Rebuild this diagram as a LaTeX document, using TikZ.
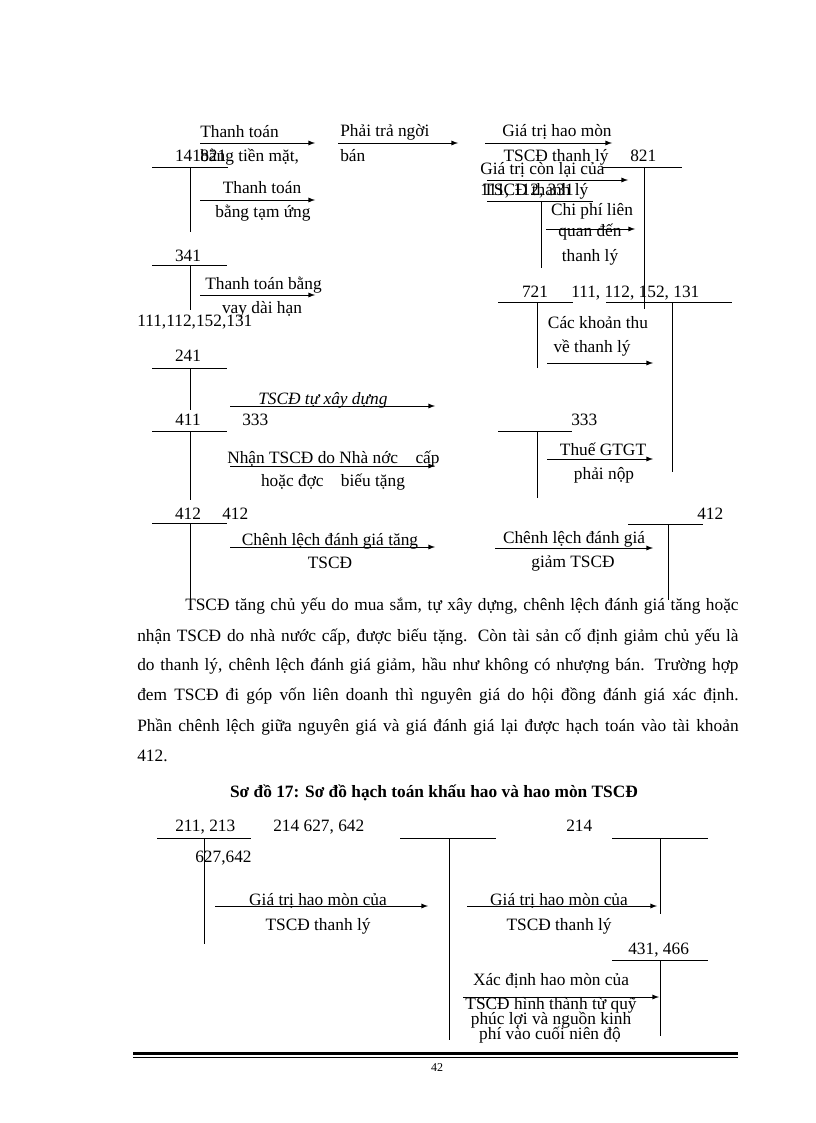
\documentclass[tikz,border=0pt]{standalone}
\usepackage{fontspec}
\setmainfont{Liberation Serif}
\usetikzlibrary{arrows,positioning}

\begin{document}
\begin{tikzpicture}
  [
   x=0.75pt,y=-0.75pt,
   lbl/.style={font=\fontsize{13}{15}\selectfont,inner sep=0pt,anchor=base},
   lw/.style={lbl,anchor=base west},
   arr/.style={-latex,line width=0.7pt},
   acc/.style={line width=0.7pt},
   par/.style={font=\fontsize{13}{15}\selectfont,inner sep=0pt,anchor=base west}
  ]
   \useasboundingbox[fill=white] (0,0) rectangle (816,1123);

   % upper diagram: T accounts
   \draw[acc] (152,167) -- (228,167) (190,167) -- (190,232);
   \draw[acc] (152,265) -- (227,265) (190,265) -- (190,310);
   \draw[acc] (152,368) -- (227,368) (190,368) -- (190,410);
   \draw[acc] (152,431) -- (227,431) (190,431) -- (190,500);
   \draw[acc] (152,523) -- (227,523) (190,523) -- (190,606);
   \draw[acc] (603,167) -- (682,167) (644,167) -- (644,309);
   \draw[acc] (487,201) -- (593,201) (541,201) -- (541,268);
   \draw[acc] (498,302) -- (573,302) (537,302) -- (537,368);
   \draw[acc] (606,302) -- (732,302) (672,302) -- (672,472);
   \draw[acc] (498,431) -- (572,431) (537,431) -- (537,498);
   \draw[acc] (628,524) -- (703,524) (668,524) -- (668,600);

   \node[lbl] (k141) at (188,162) {141};
   \node[lw] (k821a) at (200,162) {821};
   \node[lbl] (k341) at (188,262) {341};
   \node[lw] (k111a) at (137,326) {111,112,152,131};
   \node[lbl] (k241) at (188,361) {241};
   \node[lbl] (k411) at (188,425) {411};
   \node[lw] (k333a) at (242,425) {333};
   \node[lbl] (k412a) at (188,519) {412};
   \node[lw] (k412b) at (222,519) {412};
   \node[lw] (k821b) at (630,162) {821};
   \node[lw] (k111b) at (480,196) {111, 112, 331};
   \node[lbl] (k721) at (535,297) {721};
   \node[lw] (k111c) at (571,297) {111, 112, 152, 131};
   \node[lw] (k333b) at (571,425) {333};
   \node[lw] (k412c) at (697,519) {412};

   % upper diagram: arrows
   \coordinate (a1s) at (200,143); \coordinate (a1e) at (315,143);
   \coordinate (a2s) at (338,143); \coordinate (a2e) at (458,143);
   \coordinate (a3s) at (485,143); \coordinate (a3e) at (612,143);
   \coordinate (a4s) at (487,180); \coordinate (a4e) at (628,180);
   \coordinate (a5s) at (546,229); \coordinate (a5e) at (635,229);
   \coordinate (a6s) at (547,363); \coordinate (a6e) at (653,363);
   \coordinate (a7s) at (200,200); \coordinate (a7e) at (315,200);
   \coordinate (a8s) at (200,295); \coordinate (a8e) at (315,295);
   \coordinate (a9s) at (230,406); \coordinate (a9e) at (435,406);
   \coordinate (a10s) at (230,466); \coordinate (a10e) at (435,466);
   \coordinate (a11s) at (230,547); \coordinate (a11e) at (435,547);
   \coordinate (a12s) at (547,459); \coordinate (a12e) at (653,459);
   \coordinate (a13s) at (495,548); \coordinate (a13e) at (653,548);

   \draw[arr] (a1s) -- (a1e);
   \draw[arr] (a2s) -- (a2e);
   \draw[arr] (a3s) -- (a3e);
   \draw[arr] (a4s) -- (a4e);
   \draw[arr] (a5s) -- (a5e);
   \draw[arr] (a6s) -- (a6e);
   \draw[arr] (a7s) -- (a7e);
   \draw[arr] (a8s) -- (a8e);
   \draw[arr] (a9s) -- (a9e);
   \draw[arr] (a10s) -- (a10e);
   \draw[arr] (a11s) -- (a11e);
   \draw[arr] (a12s) -- (a12e);
   \draw[arr] (a13s) -- (a13e);

   \node[lw] (t1a) at (200,138) {Thanh toán};
   \node[lw] (t1b) at (200,162) {bằng tiền mặt,};
   \node[lw] (t2a) at (340,137) {Phải trả ngời};
   \node[lw] (t2b) at (340,162) {bán};
   \node[lbl] (t3a) at (557,137) {Giá trị hao mòn};
   \node[lbl] (t3b) at (556,162) {TSCĐ thanh lý};
   \node[lw] (t4a) at (480,175) {Giá trị còn lại của};
   \node[lw] (t4b) at (483,196) {TSCĐ thanh lý};
   \node[lbl] (t5a) at (592,215) {Chi phí liên};
   \node[lbl] (t5b) at (590,237) {quan đến};
   \node[lbl] (t5c) at (590,261) {thanh lý};
   \node[lbl] (t6a) at (598,328) {Các khoản thu};
   \node[lbl] (t6b) at (592,352) {về thanh lý};
   \node[lbl] (t7a) at (262,194) {Thanh toán};
   \node[lbl] (t7b) at (263,218) {bằng tạm ứng};
   \node[lw] (t8a) at (205,289) {Thanh toán bằng};
   \node[lbl] (t8b) at (262,313) {vay dài hạn};
   \node[lw] (t9) at (258,404) {\itshape TSCĐ tự xây dựng};
   \node[lw] (t10a) at (227,463) {Nhận TSCĐ do Nhà nớc\quad cấp};
   \node[lbl] (t10b) at (333,486) {hoặc đợc\quad biếu tặng};
   \node[lbl] (t11a) at (330,545) {Chênh lệch đánh giá tăng};
   \node[lbl] (t11b) at (330,568) {TSCĐ};
   \node[lbl] (t12a) at (603,455) {Thuế GTGT};
   \node[lbl] (t12b) at (604,479) {phải nộp};
   \node[lbl] (t13a) at (574,543) {Chênh lệch đánh giá};
   \node[lbl] (t13b) at (573,567) {giảm TSCĐ};

   % text
   \node[par] (p1) at (185,610) {\makebox[415pt][s]{TSCĐ tăng chủ yếu do mua sắm, tự xây dựng, chênh lệch đánh giá tăng hoặc}};
   \node[par] (p2) at (137,641) {\makebox[451pt][s]{nhận TSCĐ do nhà nước cấp, được biếu tặng. Còn tài sản cố định giảm chủ yếu là}};
   \node[par] (p3) at (137,670) {\makebox[451pt][s]{do thanh lý, chênh lệch đánh giá giảm, hầu như không có nhượng bán. Trường hợp}};
   \node[par] (p4) at (137,700) {\makebox[451pt][s]{đem TSCĐ đi góp vốn liên doanh thì nguyên giá do hội đồng đánh giá xác định.}};
   \node[par] (p5) at (137,731) {\makebox[451pt][s]{Phần chênh lệch giữa nguyên giá và giá đánh giá lại được hạch toán vào tài khoản}};
   \node[par] (p6) at (137,761) {412.};
   \node[lbl,font=\fontsize{13}{15}\selectfont\bfseries] (title) at (434,797) {Sơ đồ 17: Sơ đồ hạch toán khấu hao và hao mòn TSCĐ};

   % lower diagram
   \draw[acc] (157,838) -- (251,838) (204,838) -- (204,944);
   \draw[acc] (400,838) -- (496,838) (449,838) -- (449,1040);
   \draw[acc] (612,838) -- (708,838) (660,838) -- (660,914);
   \draw[acc] (612,960) -- (708,960) (660,960) -- (660,1036);

   \node[lw] (k211) at (175,831) {211, 213};
   \node[lw] (k627a) at (195,862) {627,642};
   \node[lw] (k214a) at (273,831) {214 627, 642};
   \node[lw] (k214b) at (566,831) {214};
   \node[lw] (k431) at (628,954) {431, 466};

   \coordinate (b1s) at (215,906); \coordinate (b1e) at (428,906);
   \coordinate (b2s) at (467,906); \coordinate (b2e) at (657,906);
   \coordinate (b3s) at (463,997); \coordinate (b3e) at (659,997);
   \draw[arr] (b1s) -- (b1e);
   \draw[arr] (b2s) -- (b2e);
   \draw[arr] (b3s) -- (b3e);

   \node[lbl] (u1a) at (318,905) {Giá trị hao mòn của};
   \node[lbl] (u1b) at (318,930) {TSCĐ thanh lý};
   \node[lbl] (u2a) at (559,905) {Giá trị hao mòn của};
   \node[lbl] (u2b) at (559,930) {TSCĐ thanh lý};
   \node[lbl] (u3a) at (551,985) {Xác định hao mòn của};
   \node[lbl] (u3b) at (551,1009) {TSCĐ hình thành từ quỹ};
   \node[lbl] (u3c) at (551,1024) {phúc lợi và nguồn kinh};
   \node[lbl] (u3d) at (550,1039) {phí vào cuối niên độ};

   % footer
   \draw[line width=1.6pt] (133,1053.5) -- (738,1053.5);
   \draw[line width=0.6pt] (133,1057) -- (738,1057);
   \node[lbl,font=\fontsize{9}{11}\selectfont] (pg) at (437,1071) {42};
\end{tikzpicture}
\end{document}
